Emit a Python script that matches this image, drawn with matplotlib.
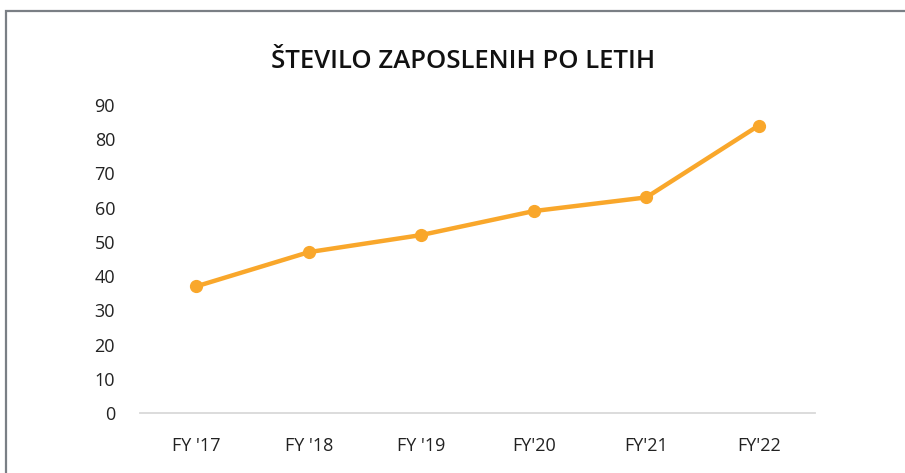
import matplotlib
matplotlib.use("Agg")
import matplotlib.pyplot as plt
from matplotlib.patches import Rectangle

categories = ["FY '17", "FY '18", "FY '19", "FY'20", "FY'21", "FY'22"]
employees = [37, 47, 52, 59, 63, 84]
yticks = [0, 10, 20, 30, 40, 50, 60, 70, 80, 90]

W, H = 905, 473
fig = plt.figure(figsize=(W / 100, H / 100), dpi=100)
fig.patch.set_facecolor("white")

# outer frame
fig.add_artist(Rectangle((6 / W, 0 - 0.05), 1.1, 1 - 11 / H + 0.05, transform=fig.transFigure,
                         fill=False, edgecolor="#7a7f85", linewidth=1.6))

ax = fig.add_axes([140 / W, 1 - 413 / H, (815 - 140) / W, (413 - 105) / H])
x = list(range(len(categories)))
ax.plot(x, employees, color="#F9A72B", linewidth=3.2, marker="o", markersize=8.5, solid_capstyle="round")
ax.set_xlim(-0.5, len(categories) - 0.5)
ax.set_ylim(0, 90)
ax.set_yticks(yticks)
ax.set_xticks(x)
ax.set_xticklabels(categories)
for s in ["top", "right", "left"]:
    ax.spines[s].set_visible(False)
ax.spines["bottom"].set_color("#d9d9d9")
ax.spines["bottom"].set_linewidth(1.3)
ax.tick_params(axis="both", length=0, labelsize=13, colors="#222222")
ax.tick_params(axis="y", pad=18)
ax.tick_params(axis="x", pad=17)
for lab in ax.get_yticklabels() + ax.get_xticklabels():
    lab.set_fontfamily("Open Sans")
for ln in ax.lines:
    ln.set_clip_on(False)

fig.text(463 / W, 1 - 62 / H, "ŠTEVILO ZAPOSLENIH PO LETIH", ha="center", va="center",
         fontsize=18.5, fontweight="semibold", fontfamily="Open Sans", color="#111111")

fig.savefig("out.png", dpi=100, facecolor="white")
